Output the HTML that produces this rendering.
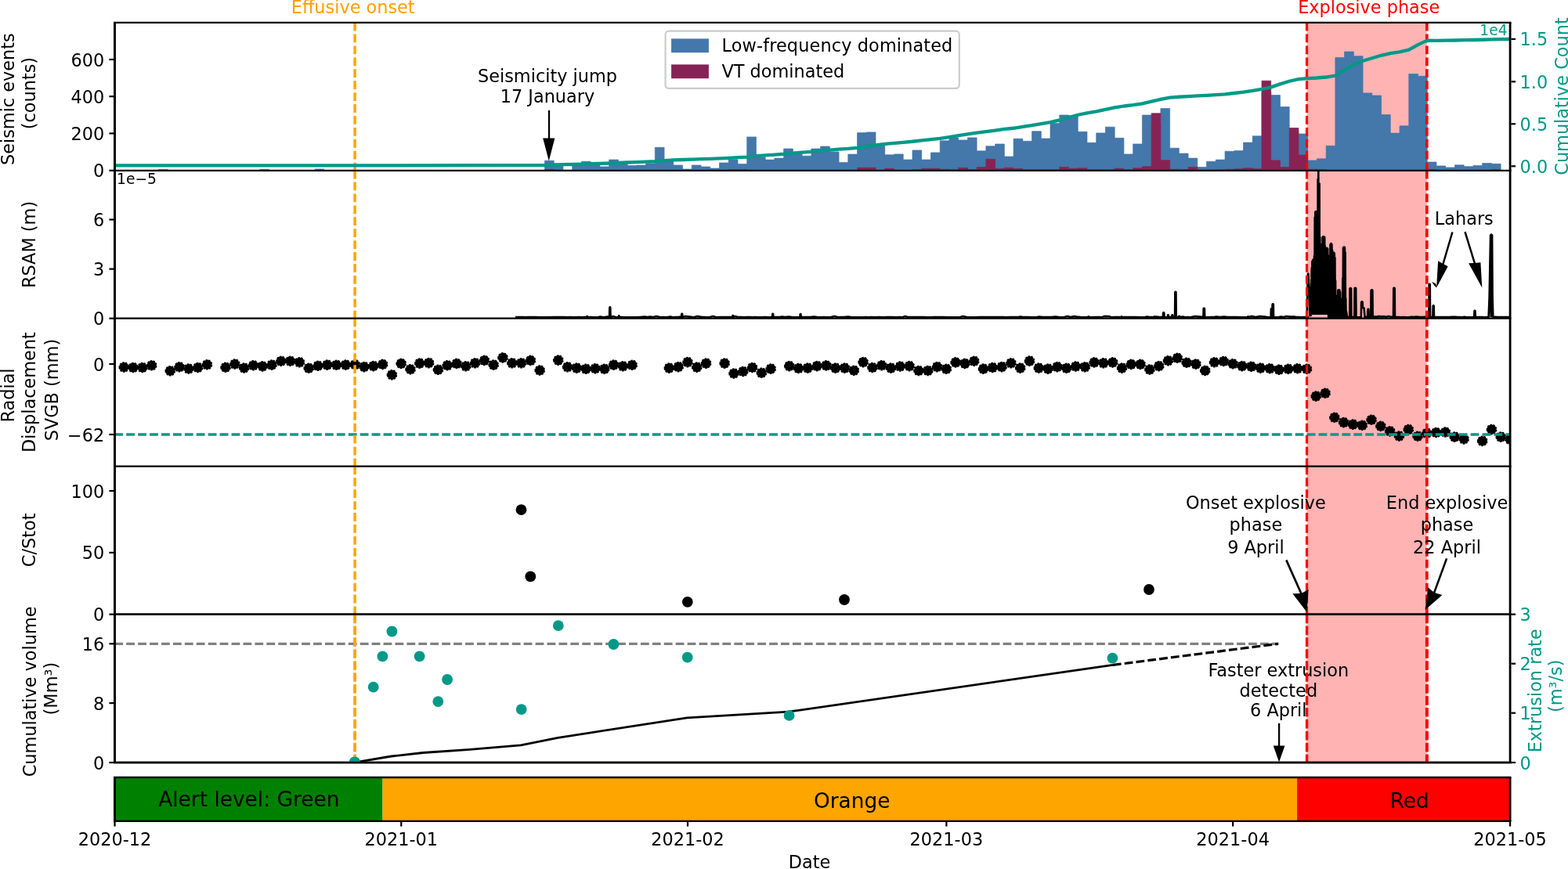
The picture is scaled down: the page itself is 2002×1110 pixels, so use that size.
<!DOCTYPE html>
<html lang="en"><head><meta charset="utf-8"><title>Eruption monitoring time series</title>
<style>html,body{margin:0;padding:0;background:#fff;}body{width:2002px;height:1110px;overflow:hidden;}svg{display:block;font-family:"DejaVu Sans","Liberation Sans",sans-serif;font-size:22.4px;}path,polyline{fill:none;}</style></head><body>
<svg width="2002" height="1110" viewBox="0 0 2002 1110">
<rect width="2002" height="1110" fill="#fff"/>
<defs>
<clipPath id="c1"><rect x="146.5" y="28.8" width="1781.6" height="189"/></clipPath>
<clipPath id="c2"><rect x="146.5" y="217.8" width="1781.6" height="188.9"/></clipPath>
<clipPath id="c3"><rect x="146.5" y="406.7" width="1781.6" height="188.9"/></clipPath>
<clipPath id="c4"><rect x="146.5" y="595.6" width="1781.6" height="189.1"/></clipPath>
<clipPath id="c5"><rect x="146.5" y="784.7" width="1781.6" height="189.3"/></clipPath>
</defs>
<rect x="1668.55" y="28.8" width="153.15" height="945.2" fill="#FFB3B3"/>
<g clip-path="url(#c1)">
<path d="M202.55 218.4V216.3H214.28V218.4ZM331.65 218.4V216.3H343.39V218.4ZM402.07 218.4V215.9H413.81V218.4ZM695.5 218.4V205.2H707.24V209.8H718.97V217.3H730.71V209.8H742.45V206.2H754.18V209.8H765.92V212.9H777.66V204H789.4V208.8H801.13V211.5H812.87V211.1H824.61V208.8H836.34V188.3H848.08V205.8H859.82V211H871.56V216H883.29V211H895.03V213H906.77V215H918.5V208H930.24V203.8H941.98V209.6H953.71V174.9H965.45V200.8H977.19V204.1H988.92V202.1H1000.66V190H1012.4V195.8H1024.14V199.2H1035.87V190H1047.61V187H1059.35V193.9H1071.08V207.4H1082.82V197.1H1094.56V169.6H1106.3V168.9H1118.03V184.8H1129.77V197.8H1141.51V196.9H1153.24V204H1164.98V191.9H1176.72V204H1188.45V194.9H1200.19V179.8H1211.93V175.8H1223.66V178.9H1235.4V175.9H1247.14V192.8H1258.88V186.7H1270.61V184H1282.35V200H1294.09V177.2H1305.82V180.3H1317.56V167.7H1329.3V177H1341.03V157.4H1352.77V147H1364.51V147.8H1376.25V168.3H1387.98V182.3H1399.72V169.9H1411.46V162.2H1423.19V176.3H1434.93V196.9H1446.67V183.9H1458.4V147H1470.14V157.8H1481.88V138.6H1493.62V189.2H1505.35V196.1H1517.09V202.1H1528.83V213.5H1540.56V206.2H1552.3V204.1H1564.04V193.3H1575.78V192.6H1587.51V182.1H1599.25V173.8H1610.99V117.8H1622.72V121.6H1634.46V136.5H1646.2V167.8H1657.93V171H1669.67V204.9H1681.41V202.8H1693.14V186.3H1704.88V73.5H1716.62V66H1728.36V71.7H1740.09V118.9H1751.83V122H1763.57V146.5H1775.3V170.1H1787.04V160.8H1798.78V94.5H1810.52V97.3H1822.25V207H1833.99V211.9H1845.73V213.9H1857.46V210.8H1869.2V212.7H1880.94V211.4H1892.67V208.5H1904.41V209.3H1916.15V218.4Z" style="fill:#4477AA;stroke:#4477AA;stroke-width:0.7;stroke-linejoin:miter"/>
<path d="M695.5 218.4V216.6H707.24V218.4ZM930.24 218.4V216.8H941.98V216.8H953.71V218.4ZM1094.56 218.4V214.2H1106.3V214.2H1118.03V218.4ZM1129.77 218.4V215.3H1141.51V218.4ZM1164.98 218.4V216.6H1176.72V215.3H1188.45V215.3H1200.19V216.3H1211.93V216.8H1223.66V214.3H1235.4V216.5H1247.14V213.6H1258.88V203.3H1270.61V215.5H1282.35V214.3H1294.09V215.5H1305.82V216.8H1317.56V216.8H1329.3V216.8H1341.03V216.8H1352.77V213.4H1364.51V215.2H1376.25V214.8H1387.98V216.8H1399.72V216.8H1411.46V216.8H1423.19V215.2H1434.93V216.8H1446.67V214.8H1458.4V212.8H1470.14V144.8H1481.88V204.7H1493.62V216.3H1505.35V216.8H1517.09V213.5H1528.83V217.3H1540.56V217.3H1552.3V217.1H1564.04V216.3H1575.78V215.8H1587.51V214.8H1599.25V215.8H1610.99V103.2H1622.72V204.9H1634.46V213.5H1646.2V163.5H1657.93V198.1H1669.67V216.3H1681.41V216.8H1693.14V218.4ZM1822.25 218.4V216.8H1833.99V218.4ZM1904.41 218.4V216.8H1916.15V218.4Z" style="fill:#882255;stroke:#882255;stroke-width:0.7;stroke-linejoin:miter"/>
</g>
<g clip-path="url(#c2)"><polyline points="658,405 661.63,405 665.52,405 668.27,405 671.1,405.4 673.8,405 677.05,405 681.07,405 684.41,405 688.4,405.4 691.33,405.2 696.04,405.4 701.86,405.4 706.41,405 712.32,405 716.77,405 720.28,405 724.68,405.4 728.26,405 731.12,405.4 735.85,405.3 738.69,405 743.17,405.4 746.39,405 749.1,405 749.4,404.6 749.55,404 749.85,404 750,404.6 750.3,405 750.39,405.3 754.52,405 758.28,405.2 763.56,405.2 766.35,404.6 770.69,405.3 775.74,404.6 778.05,405 778.35,393 778.57,392.4 779.02,392.4 779.25,393 779.55,405 780.37,405 783.28,404.1 786.36,405.3 789.39,405 789.6,405 789.9,404 790.05,403.4 790.35,403.4 790.5,404 790.8,405 793.37,405 798.55,405.4 803.81,405.3 807.5,405.3 812.08,405.4 817.37,405 822.81,404.6 826.97,405 829.68,404.6 834.44,405 837.94,404.1 843.55,405.3 846.12,405 849.87,405.4 852.78,405 856.04,404.6 858.99,405.2 862.89,405 865.67,405 869.57,404.6 869.95,405 870.25,401.4 870.48,400.8 870.93,400.8 871.15,401.4 871.45,405 875.17,404.1 880.69,404.6 885.66,405.3 890.55,404.1 896.4,405 899.2,405 902.51,405.2 905.05,405.4 908.19,404.6 910.7,404.1 915.07,405.4 919.55,405 924.47,405 930.3,405 934.4,405 935.2,405 935.5,403.6 935.65,403 935.95,403 936.1,403.6 936.4,405 938.27,404.1 942.15,405 946.87,405 950.04,405.2 954.08,405 957.77,405 960.63,405.4 963.66,405 969.48,405.4 972.07,405.2 976.72,405 981.44,405.3 986.04,405 985.95,405 986.25,401.4 986.48,400.8 986.93,400.8 987.15,401.4 987.45,405 988.97,405 994.95,405 999.13,404.6 1001.93,405 1007.06,404.6 1011.23,405 1015.54,405.2 1021.37,405 1021.4,405 1021.7,401.7 1021.9,401.1 1022.3,401.1 1022.5,401.7 1022.8,405 1025.13,405 1030.83,405 1034.38,405 1039.31,404.6 1043.63,405 1047.37,405.2 1051.74,405 1055.39,405.2 1060.04,405.2 1065.36,404.1 1070.45,405.2 1073.65,405 1077.39,405 1083.35,404.6 1087.51,405.2 1092.43,405.3 1096.5,405.3 1102.34,405.3 1105.12,405 1108.41,405.2 1112.1,405 1116.78,405.4 1122.22,405 1127.9,405.3 1133.2,405 1138.62,405 1144.31,405.2 1148.48,405 1152.5,405.3 1155.3,404.1 1159.43,405 1164.46,405 1170.44,405 1173.47,405 1178.79,405 1183.43,405.4 1189.36,405.3 1192.41,405 1195.37,405 1200.66,405 1205.01,405 1209.02,405.2 1214.42,405.2 1217.01,405.2 1220.54,405.2 1225.71,405.3 1229.12,404.1 1234.54,405 1240.22,405.3 1245.87,405.4 1251.22,405 1255.19,405 1258.15,405 1262.48,405 1268.04,405 1272.67,405 1275.77,405 1280.44,405 1284.88,405.3 1289.77,405 1294.22,405 1299.81,405 1303.18,404.6 1305.83,405 1310.1,405 1312.7,405 1316.75,405.4 1322.66,405.4 1326.95,404.6 1331.03,405 1336.36,405 1342.15,405 1347.72,404.6 1353.45,405.2 1358.89,405 1362.85,404.1 1366.9,405 1371.75,404.1 1374.5,404.6 1379.75,405 1385.53,405.3 1388.54,405 1389.4,405 1389.7,404.8 1389.85,404.2 1390.15,404.2 1390.3,404.8 1390.6,405 1394.42,405.2 1399.54,405 1403.43,405 1406.5,405.2 1409.56,404.1 1415.54,404.1 1419.23,405.2 1422.98,405 1428.01,405 1431.69,405 1431.4,405 1431.7,405 1431.85,404.4 1432.15,404.4 1432.3,405 1432.6,405 1435.73,405 1439.58,405 1444.26,405 1450.12,405 1456.07,405.2 1461.97,405 1464.76,404.6 1467.4,405 1470.85,405 1473.4,405 1473.7,404.8 1473.85,404.2 1474.15,404.2 1474.3,404.8 1474.6,405 1476.22,404.6 1480.14,405 1484.8,405 1485.1,400 1485.4,399.4 1486,399.4 1486.3,400 1486.6,405 1485.86,405.4 1490.09,405.3 1490.7,405 1491,403 1491.2,402.4 1491.6,402.4 1491.8,403 1492.1,405 1492.9,405 1496.1,405 1496.4,403 1496.6,402.4 1497,402.4 1497.2,403 1497.5,405 1498.2,405 1500.05,405 1500.35,373.3 1500.62,372.7 1501.18,372.7 1501.45,373.3 1501.75,405 1502.19,405 1504.9,405 1505.2,404.3 1505.35,403.7 1505.65,403.7 1505.8,404.3 1506.1,405 1505.63,405 1510.35,404.6 1513.14,405.2 1515.88,405 1519.96,405.3 1525.94,404.1 1531.69,404.6 1536.36,405 1536.4,405 1536.7,394.3 1537,393.7 1537.6,393.7 1537.9,394.3 1538.2,405 1540.71,405.2 1546.49,405 1549.91,405 1553.11,404.6 1557.81,405 1562.97,404.6 1567.03,405 1570.48,405 1576.46,405 1579.01,405 1583.44,405.2 1587.74,405.2 1592.9,405 1593.2,404.8 1593.35,404.2 1593.65,404.2 1593.8,404.8 1594.1,405 1593.51,405 1598.32,404.1 1603.12,405 1608.54,404.1 1614.43,404.6 1619.34,405.2 1623.04,405 1622.6,405 1622.9,394.8 1623.1,394.2 1623.5,394.2 1623.7,394.8 1624,405 1624.3,405 1624.6,388.9 1624.9,388.3 1625.5,388.3 1625.8,388.9 1626.1,405 1626.96,405.3 1632.89,405 1635.44,404.6 1639.45,405 1642.25,404.1 1647.79,404.6 1652.39,404.6 1655.05,405 1658.1,405 1660.61,405.3 1666.48,405 1670.11,405 1668.6,405 1669.8,350.5 1670.4,349.5 1671.2,364 1671.8,368 1672.3,403 1673.6,403 1674.73,342.38 1675.06,400.6 1675.39,334.01 1675.72,400.6 1676.05,332.54 1676.38,400.6 1676.71,331.47 1677.04,400.6 1677.37,331.17 1677.7,400.6 1678.03,326.69 1678.36,400.6 1678.69,277.74 1679.02,400.6 1679.35,270.5 1679.68,400.6 1680.01,270.2 1680.34,400.6 1680.67,269.99 1681,400.6 1681.33,269.84 1681.66,400.6 1681.99,269.69 1682.32,400.6 1682.65,229 1682.98,400.6 1683.31,216.71 1683.64,400.6 1683.97,260.78 1684.3,400.6 1684.63,234.46 1684.96,400.6 1685.29,303.29 1685.62,400.6 1685.95,315.51 1686.28,400.6 1686.61,315.71 1686.94,400.6 1687.27,315.9 1687.6,400.6 1687.93,311.72 1688.26,400.6 1688.59,302.98 1688.92,400.6 1689.25,302.32 1689.58,400.6 1689.91,301.98 1690.24,400.6 1690.57,302.49 1690.9,400.6 1691.23,302.99 1691.56,400.6 1691.89,314.62 1692.22,400.6 1692.55,323.64 1692.88,400.6 1693.21,317.93 1693.54,400.6 1693.87,317.1 1694.2,400.6 1694.53,317.08 1694.86,400.6 1695.19,317.82 1695.52,401.25 1695.85,326.2 1696.18,404.99 1696.51,332.68 1696.84,405.2 1697.17,332.13 1697.5,405.2 1697.83,331.58 1698.16,405.2 1698.49,312.67 1698.82,405.2 1699.15,311.18 1699.48,405.2 1699.81,311.03 1700.14,405.2 1700.47,312.27 1700.8,405.2 1701.13,319.92 1701.46,405.2 1701.79,323.28 1702.12,405.2 1702.45,323 1702.78,405.2 1703.11,322.92 1703.44,405.2 1703.77,323.58 1704.1,405.2 1704.43,329.09 1704.76,405.2 1705.09,358.46 1705.42,405.2 1705.75,377.32 1706.08,405.2 1706.41,382.54 1706.74,405.2 1707.07,381.99 1707.4,405.2 1707.73,378.98 1708.06,405.2 1708.39,370.69 1708.72,405.2 1709.05,370.36 1709.38,405.2 1709.71,370.2 1710.04,405.2 1710.37,370.86 1710.7,405.2 1711.03,372.69 1711.36,405.2 1711.69,381.59 1712.02,405.2 1712.35,381.77 1712.68,405.2 1713.01,381.96 1713.34,405.2 1713.67,382.14 1714,405.2 1714.33,355.51 1714.66,405.2 1714.99,316.45 1715.32,405.2 1715.65,315.79 1715.98,405.2 1716.31,315.56 1716.64,405.2 1716.97,316.16 1717.3,405.2 1717.63,322.55 1717.96,405.2 1718.29,381.38 1718.62,405.2 1718.95,397.88 1720,405 1723.2,405 1723.5,368.6 1723.9,368 1724.7,368 1725.1,368.6 1725.4,405 1727.2,405 1729.3,405 1729.6,368.3 1730,367.7 1730.8,367.7 1731.2,368.3 1731.5,405 1733,405.3 1735.54,405.2 1737.85,405 1738.15,386 1738.53,385.4 1739.28,385.4 1739.65,386 1739.95,393 1741.6,393.5 1742.6,405 1744.6,405 1746.1,405 1746.4,395.3 1746.65,394.7 1747.15,394.7 1747.4,395.3 1747.7,405 1749,404.5 1750.3,405 1750.6,371 1751.05,370.4 1751.95,370.4 1752.4,371 1752.7,405 1754.5,404.4 1756.71,404.7 1759.97,404.1 1762.59,404.4 1764.81,404.4 1767.17,404.4 1770.16,404.7 1772.92,404.1 1775.13,404.6 1779,405 1779.3,368.3 1779.65,367.7 1780.35,367.7 1780.7,368.3 1781,405 1783,405 1786.91,405.1 1789.28,405.2 1791.39,405 1795.23,405.2 1799.5,405 1803.57,404.7 1805.78,405 1808.11,404.5 1812.51,405 1816.6,405 1820.17,404.7 1824.35,405 1824.65,363.3 1824.92,362.7 1825.48,362.7 1825.75,363.3 1826.05,405 1827.8,405 1829.4,405 1829.7,390.8 1829.95,390.2 1830.45,390.2 1830.7,390.8 1831,405 1833,405 1836.14,405 1840.01,405 1843.66,405 1847.53,405.1 1850.16,405 1854.27,404.7 1858.09,404.7 1860.67,405.1 1863.91,405 1866.1,405.3 1870.02,404.7 1872.21,405.2 1875.04,405.3 1878.59,405.2 1882.2,405 1882.5,397.4 1882.75,396.8 1883.25,396.8 1883.5,397.4 1883.8,405 1886,405 1889.21,405 1892.94,405.1 1895.67,405.3 1898.83,405.1 1900.6,405 1901.6,380 1903.1,300.2 1903.6,404 1904.1,299.6 1904.6,404 1905.1,300.2 1905.6,380 1906.3,405 1909,404.7 1911.78,405 1916.12,405 1918.84,405 1922.89,405.1 1928.1,405" stroke="#000" stroke-width="2.6" stroke-linejoin="round"/></g>
<g clip-path="url(#c3)">
<path d="M152.25 469a6.05 6.05 0 1 0 12.1 0a6.05 6.05 0 1 0 -12.1 0ZM164.05 469.5a6.05 6.05 0 1 0 12.1 0a6.05 6.05 0 1 0 -12.1 0ZM175.85 469.5a6.05 6.05 0 1 0 12.1 0a6.05 6.05 0 1 0 -12.1 0ZM187.64 466.8a6.05 6.05 0 1 0 12.1 0a6.05 6.05 0 1 0 -12.1 0ZM211.24 473.7a6.05 6.05 0 1 0 12.1 0a6.05 6.05 0 1 0 -12.1 0ZM223.04 468.8a6.05 6.05 0 1 0 12.1 0a6.05 6.05 0 1 0 -12.1 0ZM234.84 471a6.05 6.05 0 1 0 12.1 0a6.05 6.05 0 1 0 -12.1 0ZM246.64 469.5a6.05 6.05 0 1 0 12.1 0a6.05 6.05 0 1 0 -12.1 0ZM258.44 465.8a6.05 6.05 0 1 0 12.1 0a6.05 6.05 0 1 0 -12.1 0ZM282.03 469.2a6.05 6.05 0 1 0 12.1 0a6.05 6.05 0 1 0 -12.1 0ZM293.83 465a6.05 6.05 0 1 0 12.1 0a6.05 6.05 0 1 0 -12.1 0ZM305.63 470a6.05 6.05 0 1 0 12.1 0a6.05 6.05 0 1 0 -12.1 0ZM317.43 466.7a6.05 6.05 0 1 0 12.1 0a6.05 6.05 0 1 0 -12.1 0ZM329.23 467.9a6.05 6.05 0 1 0 12.1 0a6.05 6.05 0 1 0 -12.1 0ZM341.03 466.1a6.05 6.05 0 1 0 12.1 0a6.05 6.05 0 1 0 -12.1 0ZM352.83 461.3a6.05 6.05 0 1 0 12.1 0a6.05 6.05 0 1 0 -12.1 0ZM364.62 461.3a6.05 6.05 0 1 0 12.1 0a6.05 6.05 0 1 0 -12.1 0ZM376.42 462.8a6.05 6.05 0 1 0 12.1 0a6.05 6.05 0 1 0 -12.1 0ZM388.22 470.3a6.05 6.05 0 1 0 12.1 0a6.05 6.05 0 1 0 -12.1 0ZM400.02 467.3a6.05 6.05 0 1 0 12.1 0a6.05 6.05 0 1 0 -12.1 0ZM411.82 466.1a6.05 6.05 0 1 0 12.1 0a6.05 6.05 0 1 0 -12.1 0ZM423.62 466.3a6.05 6.05 0 1 0 12.1 0a6.05 6.05 0 1 0 -12.1 0ZM435.42 466.1a6.05 6.05 0 1 0 12.1 0a6.05 6.05 0 1 0 -12.1 0ZM447.22 465.7a6.05 6.05 0 1 0 12.1 0a6.05 6.05 0 1 0 -12.1 0ZM459.01 468.6a6.05 6.05 0 1 0 12.1 0a6.05 6.05 0 1 0 -12.1 0ZM470.81 467.6a6.05 6.05 0 1 0 12.1 0a6.05 6.05 0 1 0 -12.1 0ZM482.61 465.4a6.05 6.05 0 1 0 12.1 0a6.05 6.05 0 1 0 -12.1 0ZM494.41 478.8a6.05 6.05 0 1 0 12.1 0a6.05 6.05 0 1 0 -12.1 0ZM506.21 464.4a6.05 6.05 0 1 0 12.1 0a6.05 6.05 0 1 0 -12.1 0ZM518.01 471.7a6.05 6.05 0 1 0 12.1 0a6.05 6.05 0 1 0 -12.1 0ZM529.81 464.1a6.05 6.05 0 1 0 12.1 0a6.05 6.05 0 1 0 -12.1 0ZM541.6 463.6a6.05 6.05 0 1 0 12.1 0a6.05 6.05 0 1 0 -12.1 0ZM553.4 472.2a6.05 6.05 0 1 0 12.1 0a6.05 6.05 0 1 0 -12.1 0ZM565.2 466.7a6.05 6.05 0 1 0 12.1 0a6.05 6.05 0 1 0 -12.1 0ZM577 464.4a6.05 6.05 0 1 0 12.1 0a6.05 6.05 0 1 0 -12.1 0ZM588.8 467.8a6.05 6.05 0 1 0 12.1 0a6.05 6.05 0 1 0 -12.1 0ZM600.6 463.8a6.05 6.05 0 1 0 12.1 0a6.05 6.05 0 1 0 -12.1 0ZM612.4 460.4a6.05 6.05 0 1 0 12.1 0a6.05 6.05 0 1 0 -12.1 0ZM624.2 466.1a6.05 6.05 0 1 0 12.1 0a6.05 6.05 0 1 0 -12.1 0ZM635.99 456.9a6.05 6.05 0 1 0 12.1 0a6.05 6.05 0 1 0 -12.1 0ZM647.79 463.8a6.05 6.05 0 1 0 12.1 0a6.05 6.05 0 1 0 -12.1 0ZM659.59 463.8a6.05 6.05 0 1 0 12.1 0a6.05 6.05 0 1 0 -12.1 0ZM671.39 460.4a6.05 6.05 0 1 0 12.1 0a6.05 6.05 0 1 0 -12.1 0ZM683.19 473a6.05 6.05 0 1 0 12.1 0a6.05 6.05 0 1 0 -12.1 0ZM706.79 460.1a6.05 6.05 0 1 0 12.1 0a6.05 6.05 0 1 0 -12.1 0ZM718.59 468.8a6.05 6.05 0 1 0 12.1 0a6.05 6.05 0 1 0 -12.1 0ZM730.38 470.1a6.05 6.05 0 1 0 12.1 0a6.05 6.05 0 1 0 -12.1 0ZM742.18 471.3a6.05 6.05 0 1 0 12.1 0a6.05 6.05 0 1 0 -12.1 0ZM753.98 470.7a6.05 6.05 0 1 0 12.1 0a6.05 6.05 0 1 0 -12.1 0ZM765.78 471.3a6.05 6.05 0 1 0 12.1 0a6.05 6.05 0 1 0 -12.1 0ZM777.58 466.1a6.05 6.05 0 1 0 12.1 0a6.05 6.05 0 1 0 -12.1 0ZM789.38 467.8a6.05 6.05 0 1 0 12.1 0a6.05 6.05 0 1 0 -12.1 0ZM801.18 466.3a6.05 6.05 0 1 0 12.1 0a6.05 6.05 0 1 0 -12.1 0ZM848.37 470.1a6.05 6.05 0 1 0 12.1 0a6.05 6.05 0 1 0 -12.1 0ZM860.17 468.6a6.05 6.05 0 1 0 12.1 0a6.05 6.05 0 1 0 -12.1 0ZM871.97 462.6a6.05 6.05 0 1 0 12.1 0a6.05 6.05 0 1 0 -12.1 0ZM883.77 469.1a6.05 6.05 0 1 0 12.1 0a6.05 6.05 0 1 0 -12.1 0ZM895.57 464.1a6.05 6.05 0 1 0 12.1 0a6.05 6.05 0 1 0 -12.1 0ZM919.16 464.1a6.05 6.05 0 1 0 12.1 0a6.05 6.05 0 1 0 -12.1 0ZM930.96 477a6.05 6.05 0 1 0 12.1 0a6.05 6.05 0 1 0 -12.1 0ZM942.76 474.5a6.05 6.05 0 1 0 12.1 0a6.05 6.05 0 1 0 -12.1 0ZM954.56 469.5a6.05 6.05 0 1 0 12.1 0a6.05 6.05 0 1 0 -12.1 0ZM966.36 476.3a6.05 6.05 0 1 0 12.1 0a6.05 6.05 0 1 0 -12.1 0ZM978.16 471.1a6.05 6.05 0 1 0 12.1 0a6.05 6.05 0 1 0 -12.1 0ZM1001.75 467.6a6.05 6.05 0 1 0 12.1 0a6.05 6.05 0 1 0 -12.1 0ZM1013.55 470.5a6.05 6.05 0 1 0 12.1 0a6.05 6.05 0 1 0 -12.1 0ZM1025.35 470.1a6.05 6.05 0 1 0 12.1 0a6.05 6.05 0 1 0 -12.1 0ZM1037.15 467.6a6.05 6.05 0 1 0 12.1 0a6.05 6.05 0 1 0 -12.1 0ZM1048.95 466.9a6.05 6.05 0 1 0 12.1 0a6.05 6.05 0 1 0 -12.1 0ZM1060.75 470.1a6.05 6.05 0 1 0 12.1 0a6.05 6.05 0 1 0 -12.1 0ZM1072.55 470.1a6.05 6.05 0 1 0 12.1 0a6.05 6.05 0 1 0 -12.1 0ZM1084.34 473.2a6.05 6.05 0 1 0 12.1 0a6.05 6.05 0 1 0 -12.1 0ZM1096.14 462.6a6.05 6.05 0 1 0 12.1 0a6.05 6.05 0 1 0 -12.1 0ZM1107.94 469.5a6.05 6.05 0 1 0 12.1 0a6.05 6.05 0 1 0 -12.1 0ZM1119.74 466.7a6.05 6.05 0 1 0 12.1 0a6.05 6.05 0 1 0 -12.1 0ZM1131.54 470.1a6.05 6.05 0 1 0 12.1 0a6.05 6.05 0 1 0 -12.1 0ZM1143.34 468a6.05 6.05 0 1 0 12.1 0a6.05 6.05 0 1 0 -12.1 0ZM1155.14 467.6a6.05 6.05 0 1 0 12.1 0a6.05 6.05 0 1 0 -12.1 0ZM1166.93 473.5a6.05 6.05 0 1 0 12.1 0a6.05 6.05 0 1 0 -12.1 0ZM1178.73 473.5a6.05 6.05 0 1 0 12.1 0a6.05 6.05 0 1 0 -12.1 0ZM1190.53 468.6a6.05 6.05 0 1 0 12.1 0a6.05 6.05 0 1 0 -12.1 0ZM1202.33 471.3a6.05 6.05 0 1 0 12.1 0a6.05 6.05 0 1 0 -12.1 0ZM1214.13 462.9a6.05 6.05 0 1 0 12.1 0a6.05 6.05 0 1 0 -12.1 0ZM1225.93 464.4a6.05 6.05 0 1 0 12.1 0a6.05 6.05 0 1 0 -12.1 0ZM1237.73 461.3a6.05 6.05 0 1 0 12.1 0a6.05 6.05 0 1 0 -12.1 0ZM1249.53 471.1a6.05 6.05 0 1 0 12.1 0a6.05 6.05 0 1 0 -12.1 0ZM1261.32 469.5a6.05 6.05 0 1 0 12.1 0a6.05 6.05 0 1 0 -12.1 0ZM1273.12 468.6a6.05 6.05 0 1 0 12.1 0a6.05 6.05 0 1 0 -12.1 0ZM1284.92 463.8a6.05 6.05 0 1 0 12.1 0a6.05 6.05 0 1 0 -12.1 0ZM1296.72 470.1a6.05 6.05 0 1 0 12.1 0a6.05 6.05 0 1 0 -12.1 0ZM1308.52 461.1a6.05 6.05 0 1 0 12.1 0a6.05 6.05 0 1 0 -12.1 0ZM1320.32 470.1a6.05 6.05 0 1 0 12.1 0a6.05 6.05 0 1 0 -12.1 0ZM1332.12 471.1a6.05 6.05 0 1 0 12.1 0a6.05 6.05 0 1 0 -12.1 0ZM1343.91 468.6a6.05 6.05 0 1 0 12.1 0a6.05 6.05 0 1 0 -12.1 0ZM1355.71 470.3a6.05 6.05 0 1 0 12.1 0a6.05 6.05 0 1 0 -12.1 0ZM1367.51 468a6.05 6.05 0 1 0 12.1 0a6.05 6.05 0 1 0 -12.1 0ZM1379.31 468.8a6.05 6.05 0 1 0 12.1 0a6.05 6.05 0 1 0 -12.1 0ZM1391.11 462.9a6.05 6.05 0 1 0 12.1 0a6.05 6.05 0 1 0 -12.1 0ZM1402.91 463.8a6.05 6.05 0 1 0 12.1 0a6.05 6.05 0 1 0 -12.1 0ZM1414.71 462.9a6.05 6.05 0 1 0 12.1 0a6.05 6.05 0 1 0 -12.1 0ZM1426.51 470.1a6.05 6.05 0 1 0 12.1 0a6.05 6.05 0 1 0 -12.1 0ZM1438.3 465.4a6.05 6.05 0 1 0 12.1 0a6.05 6.05 0 1 0 -12.1 0ZM1450.1 465.4a6.05 6.05 0 1 0 12.1 0a6.05 6.05 0 1 0 -12.1 0ZM1461.9 472a6.05 6.05 0 1 0 12.1 0a6.05 6.05 0 1 0 -12.1 0ZM1473.7 467.6a6.05 6.05 0 1 0 12.1 0a6.05 6.05 0 1 0 -12.1 0ZM1485.5 460.7a6.05 6.05 0 1 0 12.1 0a6.05 6.05 0 1 0 -12.1 0ZM1497.3 457.3a6.05 6.05 0 1 0 12.1 0a6.05 6.05 0 1 0 -12.1 0ZM1509.1 463.2a6.05 6.05 0 1 0 12.1 0a6.05 6.05 0 1 0 -12.1 0ZM1520.9 465.1a6.05 6.05 0 1 0 12.1 0a6.05 6.05 0 1 0 -12.1 0ZM1532.69 473.4a6.05 6.05 0 1 0 12.1 0a6.05 6.05 0 1 0 -12.1 0ZM1544.49 462.8a6.05 6.05 0 1 0 12.1 0a6.05 6.05 0 1 0 -12.1 0ZM1556.29 461.5a6.05 6.05 0 1 0 12.1 0a6.05 6.05 0 1 0 -12.1 0ZM1568.09 464.7a6.05 6.05 0 1 0 12.1 0a6.05 6.05 0 1 0 -12.1 0ZM1579.89 467.6a6.05 6.05 0 1 0 12.1 0a6.05 6.05 0 1 0 -12.1 0ZM1591.69 468.2a6.05 6.05 0 1 0 12.1 0a6.05 6.05 0 1 0 -12.1 0ZM1603.49 470.1a6.05 6.05 0 1 0 12.1 0a6.05 6.05 0 1 0 -12.1 0ZM1615.28 470.7a6.05 6.05 0 1 0 12.1 0a6.05 6.05 0 1 0 -12.1 0ZM1627.08 472.2a6.05 6.05 0 1 0 12.1 0a6.05 6.05 0 1 0 -12.1 0ZM1638.88 471.3a6.05 6.05 0 1 0 12.1 0a6.05 6.05 0 1 0 -12.1 0ZM1650.68 470.7a6.05 6.05 0 1 0 12.1 0a6.05 6.05 0 1 0 -12.1 0ZM1662.48 471.3a6.05 6.05 0 1 0 12.1 0a6.05 6.05 0 1 0 -12.1 0ZM1674.28 506.1a6.05 6.05 0 1 0 12.1 0a6.05 6.05 0 1 0 -12.1 0ZM1686.08 502.2a6.05 6.05 0 1 0 12.1 0a6.05 6.05 0 1 0 -12.1 0ZM1697.88 533.3a6.05 6.05 0 1 0 12.1 0a6.05 6.05 0 1 0 -12.1 0ZM1709.67 539.6a6.05 6.05 0 1 0 12.1 0a6.05 6.05 0 1 0 -12.1 0ZM1721.47 542.1a6.05 6.05 0 1 0 12.1 0a6.05 6.05 0 1 0 -12.1 0ZM1733.27 543.3a6.05 6.05 0 1 0 12.1 0a6.05 6.05 0 1 0 -12.1 0ZM1745.07 536.2a6.05 6.05 0 1 0 12.1 0a6.05 6.05 0 1 0 -12.1 0ZM1756.87 544.4a6.05 6.05 0 1 0 12.1 0a6.05 6.05 0 1 0 -12.1 0ZM1768.67 550.8a6.05 6.05 0 1 0 12.1 0a6.05 6.05 0 1 0 -12.1 0ZM1780.47 557a6.05 6.05 0 1 0 12.1 0a6.05 6.05 0 1 0 -12.1 0ZM1792.26 548.6a6.05 6.05 0 1 0 12.1 0a6.05 6.05 0 1 0 -12.1 0ZM1804.06 557.2a6.05 6.05 0 1 0 12.1 0a6.05 6.05 0 1 0 -12.1 0ZM1815.86 553.3a6.05 6.05 0 1 0 12.1 0a6.05 6.05 0 1 0 -12.1 0ZM1827.66 552.5a6.05 6.05 0 1 0 12.1 0a6.05 6.05 0 1 0 -12.1 0ZM1839.46 552a6.05 6.05 0 1 0 12.1 0a6.05 6.05 0 1 0 -12.1 0ZM1851.26 558.1a6.05 6.05 0 1 0 12.1 0a6.05 6.05 0 1 0 -12.1 0ZM1863.06 560.8a6.05 6.05 0 1 0 12.1 0a6.05 6.05 0 1 0 -12.1 0ZM1886.65 563.3a6.05 6.05 0 1 0 12.1 0a6.05 6.05 0 1 0 -12.1 0ZM1898.45 548.6a6.05 6.05 0 1 0 12.1 0a6.05 6.05 0 1 0 -12.1 0ZM1910.25 558.1a6.05 6.05 0 1 0 12.1 0a6.05 6.05 0 1 0 -12.1 0ZM1922.05 561.3a6.05 6.05 0 1 0 12.1 0a6.05 6.05 0 1 0 -12.1 0Z" style="fill:#000;stroke:#000;stroke-width:1.5;stroke-dasharray:2.6 1.3"/>
</g>
<path d="M146.5 555H1928.1" stroke="#009988" stroke-width="3.3" stroke-dasharray="10.8 4.125" stroke-dashoffset="0.2"/>
<circle cx="665.5" cy="651.2" r="6.9"/>
<circle cx="677.3" cy="736.4" r="6.9"/>
<circle cx="877.8" cy="768.8" r="6.9"/>
<circle cx="1078" cy="766" r="6.9"/>
<circle cx="1467" cy="753" r="6.9"/>
<path d="M146.5 822.4H1632.5" stroke="#808080" stroke-width="3.3" stroke-dasharray="10.8 4.125" stroke-dashoffset="0.2"/>
<polyline points="453,973.8 499.6,966 540,961.5 600,957.3 665,951.8 712.4,942.3 877.2,916.9 1007,909.1 1420.9,849.4" stroke="#000" stroke-width="2.8" stroke-linejoin="round"/>
<path d="M1420.9 849.4L1632 822.3" stroke="#000" stroke-width="3.2" stroke-dasharray="10.8 4.125"/>
<path d="M453.1 28.8V217.8" stroke="#FFA500" stroke-width="3.5" stroke-dasharray="10.8 4.125" stroke-dashoffset="0.2"/>
<path d="M1668.55 28.8V217.8" stroke="#FF0000" stroke-width="3.2" stroke-dasharray="10.8 4.125" stroke-dashoffset="0.2"/>
<path d="M1821.8 28.8V217.8" stroke="#FF0000" stroke-width="3.7" stroke-dasharray="10.8 4.125" stroke-dashoffset="0.2"/>
<path d="M453.1 217.8V406.7" stroke="#FFA500" stroke-width="3.5" stroke-dasharray="10.8 4.125" stroke-dashoffset="0.2"/>
<path d="M1668.55 217.8V406.7" stroke="#FF0000" stroke-width="3.2" stroke-dasharray="10.8 4.125" stroke-dashoffset="0.2"/>
<path d="M1821.8 217.8V406.7" stroke="#FF0000" stroke-width="3.7" stroke-dasharray="10.8 4.125" stroke-dashoffset="0.2"/>
<path d="M453.1 406.7V595.6" stroke="#FFA500" stroke-width="3.5" stroke-dasharray="10.8 4.125" stroke-dashoffset="0.2"/>
<path d="M1668.55 406.7V595.6" stroke="#FF0000" stroke-width="3.2" stroke-dasharray="10.8 4.125" stroke-dashoffset="0.2"/>
<path d="M1821.8 406.7V595.6" stroke="#FF0000" stroke-width="3.7" stroke-dasharray="10.8 4.125" stroke-dashoffset="0.2"/>
<path d="M453.1 595.6V784.7" stroke="#FFA500" stroke-width="3.5" stroke-dasharray="10.8 4.125" stroke-dashoffset="0.2"/>
<path d="M1668.55 595.6V784.7" stroke="#FF0000" stroke-width="3.2" stroke-dasharray="10.8 4.125" stroke-dashoffset="0.2"/>
<path d="M1821.8 595.6V784.7" stroke="#FF0000" stroke-width="3.7" stroke-dasharray="10.8 4.125" stroke-dashoffset="0.2"/>
<path d="M453.1 784.7V974" stroke="#FFA500" stroke-width="3.5" stroke-dasharray="10.8 4.125" stroke-dashoffset="0.2"/>
<path d="M1668.55 784.7V974" stroke="#FF0000" stroke-width="3.2" stroke-dasharray="10.8 4.125" stroke-dashoffset="0.2"/>
<path d="M1821.8 784.7V974" stroke="#FF0000" stroke-width="3.7" stroke-dasharray="10.8 4.125" stroke-dashoffset="0.2"/>
<g clip-path="url(#c5)" fill="#009988">
<circle cx="452.9" cy="973.5" r="6.9"/>
<circle cx="476.7" cy="877.7" r="6.9"/>
<circle cx="488.4" cy="838.4" r="6.9"/>
<circle cx="500.4" cy="806.5" r="6.9"/>
<circle cx="535.6" cy="838.4" r="6.9"/>
<circle cx="559.3" cy="896.1" r="6.9"/>
<circle cx="571.1" cy="868" r="6.9"/>
<circle cx="665.7" cy="906.1" r="6.9"/>
<circle cx="712.8" cy="799.1" r="6.9"/>
<circle cx="783.4" cy="823" r="6.9"/>
<circle cx="877.7" cy="839.6" r="6.9"/>
<circle cx="1007.6" cy="913.9" r="6.9"/>
<circle cx="1420.4" cy="840.7" r="6.9"/>
</g>
<g clip-path="url(#c1)"><polyline points="146.5,211.4 500,211.3 695.5,210.99 707.24,210.51 718.97,210.15 730.71,210 742.45,209.64 754.18,209.18 765.92,208.8 777.66,208.48 789.4,207.91 801.13,207.48 812.87,207.12 824.61,206.72 836.34,206.19 848.08,205.08 859.82,204.47 871.56,204 883.29,203.67 895.03,203.2 906.77,202.78 918.5,202.41 930.24,201.85 941.98,201.18 953.71,200.66 965.45,199.12 977.19,198.29 988.92,197.55 1000.66,196.76 1012.4,195.63 1024.14,194.67 1035.87,193.83 1047.61,192.74 1059.35,191.56 1071.08,190.57 1082.82,189.97 1094.56,188.96 1106.3,187.16 1118.03,185.34 1129.77,183.96 1141.51,182.95 1153.24,181.84 1164.98,180.75 1176.72,179.31 1188.45,178.22 1200.19,176.87 1211.93,175.09 1223.66,173.22 1235.4,171.44 1247.14,169.57 1258.88,168.18 1270.61,166.61 1282.35,164.97 1294.09,163.76 1305.82,161.92 1317.56,160.17 1329.3,158.06 1341.03,156.21 1352.77,153.38 1364.51,150.05 1376.25,146.74 1387.98,144.34 1399.72,142.33 1411.46,139.97 1423.19,137.44 1434.93,135.5 1446.67,134.13 1458.4,132.39 1470.14,129.61 1481.88,126.81 1493.62,124.6 1505.35,123.75 1517.09,123.12 1528.83,122.36 1540.56,121.82 1552.3,121.09 1564.04,120.29 1575.78,118.99 1587.51,117.65 1599.25,115.83 1610.99,113.78 1622.72,111.38 1634.46,107.36 1646.2,103.76 1657.93,101.13 1669.67,100.21 1681.41,99.49 1693.14,98.51 1704.88,96.66 1716.62,89.5 1728.36,82.52 1740.09,77.73 1751.83,74.25 1763.57,70.81 1775.3,68.11 1787.04,66.29 1798.78,63.61 1810.52,57.17 1822.25,51.63 1833.99,51.87 1845.73,51.68 1857.46,51.49 1869.2,51.21 1880.94,50.99 1892.67,50.74 1904.41,50.4 1916.15,50.08 1928.1,50" stroke="#009988" stroke-width="4.3" stroke-linejoin="round"/></g>
<path d="M145 28.8H1929.5" stroke="#000" stroke-width="2.3"/>
<path d="M145 217.8H1929.5" stroke="#000" stroke-width="2.3"/>
<path d="M145 406.7H1929.5" stroke="#000" stroke-width="2.3"/>
<path d="M145 595.6H1929.5" stroke="#000" stroke-width="2.3"/>
<path d="M145 784.7H1929.5" stroke="#000" stroke-width="2.3"/>
<path d="M145 974H1929.5" stroke="#000" stroke-width="2.3"/>
<path d="M146.5 28.8V974" stroke="#000" stroke-width="3"/>
<path d="M1928.1 28.8V974" stroke="#000" stroke-width="2.8"/>
<path d="M139.4 76H145.1" stroke="#000" stroke-width="2.2"/>
<text x="133.3" y="84.5" text-anchor="end">600</text>
<path d="M139.4 123.2H145.1" stroke="#000" stroke-width="2.2"/>
<text x="133.3" y="131.7" text-anchor="end">400</text>
<path d="M139.4 170.4H145.1" stroke="#000" stroke-width="2.2"/>
<text x="133.3" y="178.9" text-anchor="end">200</text>
<path d="M139.4 217.8H145.1" stroke="#000" stroke-width="2.2"/>
<text x="133.3" y="226.3" text-anchor="end">0</text>
<path d="M139.4 280.5H145.1" stroke="#000" stroke-width="2.2"/>
<text x="133.3" y="289" text-anchor="end">6</text>
<path d="M139.4 343.6H145.1" stroke="#000" stroke-width="2.2"/>
<text x="133.3" y="352.1" text-anchor="end">3</text>
<path d="M139.4 406.7H145.1" stroke="#000" stroke-width="2.2"/>
<text x="133.3" y="415.2" text-anchor="end">0</text>
<path d="M139.4 465H145.1" stroke="#000" stroke-width="2.2"/>
<text x="133.3" y="473.5" text-anchor="end">0</text>
<path d="M139.4 555H145.1" stroke="#000" stroke-width="2.2"/>
<text x="133.3" y="563.5" text-anchor="end">−62</text>
<path d="M139.4 627H145.1" stroke="#000" stroke-width="2.2"/>
<text x="133.3" y="635.5" text-anchor="end">100</text>
<path d="M139.4 705.9H145.1" stroke="#000" stroke-width="2.2"/>
<text x="133.3" y="714.4" text-anchor="end">50</text>
<path d="M139.4 784.7H145.1" stroke="#000" stroke-width="2.2"/>
<text x="133.3" y="793.2" text-anchor="end">0</text>
<path d="M139.4 822.3H145.1" stroke="#000" stroke-width="2.2"/>
<text x="133.3" y="830.8" text-anchor="end">16</text>
<path d="M139.4 898.1H145.1" stroke="#000" stroke-width="2.2"/>
<text x="133.3" y="906.6" text-anchor="end">8</text>
<path d="M139.4 974H145.1" stroke="#000" stroke-width="2.2"/>
<text x="133.3" y="982.5" text-anchor="end">0</text>
<path d="M1929.4 49.9H1935.1" stroke="#000" stroke-width="2.2"/>
<text x="1940.6" y="58.2" text-anchor="start" fill="#009988">1.5</text>
<path d="M1929.4 104.3H1935.1" stroke="#000" stroke-width="2.2"/>
<text x="1940.6" y="112.6" text-anchor="start" fill="#009988">1.0</text>
<path d="M1929.4 158.3H1935.1" stroke="#000" stroke-width="2.2"/>
<text x="1940.6" y="166.6" text-anchor="start" fill="#009988">0.5</text>
<path d="M1929.4 212.3H1935.1" stroke="#000" stroke-width="2.2"/>
<text x="1940.6" y="220.6" text-anchor="start" fill="#009988">0.0</text>
<path d="M1929.4 784.7H1935.1" stroke="#000" stroke-width="2.2"/>
<text x="1940.6" y="793.4" text-anchor="start" fill="#009988">3</text>
<path d="M1929.4 847.7H1935.1" stroke="#000" stroke-width="2.2"/>
<text x="1940.6" y="856.4" text-anchor="start" fill="#009988">2</text>
<path d="M1929.4 910.7H1935.1" stroke="#000" stroke-width="2.2"/>
<text x="1940.6" y="919.4" text-anchor="start" fill="#009988">1</text>
<path d="M1929.4 974H1935.1" stroke="#000" stroke-width="2.2"/>
<text x="1940.6" y="982.7" text-anchor="start" fill="#009988">0</text>
<text x="149" y="235" text-anchor="start" font-size="18.7">1e−5</text>
<text x="1924.6" y="45.4" text-anchor="end" fill="#009988" font-size="18.7">1e4</text>
<text x="18" y="126.65" text-anchor="middle" transform="rotate(-90 18 126.65)">Seismic events</text>
<text x="45.1" y="119.1" text-anchor="middle" transform="rotate(-90 45.1 119.1)">(counts)</text>
<text x="45.4" y="312.5" text-anchor="middle" transform="rotate(-90 45.4 312.5)">RSAM (m)</text>
<text x="17.7" y="505" text-anchor="middle" transform="rotate(-90 17.7 505)">Radial</text>
<text x="45.5" y="501.1" text-anchor="middle" transform="rotate(-90 45.5 501.1)">Displacement</text>
<text x="73.8" y="498.1" text-anchor="middle" transform="rotate(-90 73.8 498.1)">SVGB (mm)</text>
<text x="45.4" y="689.9" text-anchor="middle" transform="rotate(-90 45.4 689.9)">C/Stot</text>
<text x="45.7" y="883.4" text-anchor="middle" transform="rotate(-90 45.7 883.4)">Cumulative volume</text>
<text x="72.8" y="879.6" text-anchor="middle" transform="rotate(-90 72.8 879.6)">(Mm³)</text>
<text x="2001.9" y="123" text-anchor="middle" fill="#009988" transform="rotate(-90 2001.9 123)">Cumulative Count</text>
<text x="1968" y="882.3" text-anchor="middle" fill="#009988" transform="rotate(-90 1968 882.3)">Extrusion rate</text>
<text x="1993.8" y="876.35" text-anchor="middle" fill="#009988" transform="rotate(-90 1993.8 876.35)">(m³/s)</text>
<text x="450.7" y="17.3" text-anchor="middle" fill="#FF9F00">Effusive onset</text>
<text x="1747.7" y="17.3" text-anchor="middle" fill="#FF0000">Explosive phase</text>
<rect x="849.6" y="39.7" width="375.2" height="73.2" rx="4.4" fill="#fff" fill-opacity="0.8" stroke="#ccc" stroke-width="2.2"/>
<rect x="857.1" y="49.4" width="47.8" height="17.8" fill="#4477AA"/>
<rect x="857.1" y="82.4" width="47.8" height="17.8" fill="#882255"/>
<text x="921.5" y="66" text-anchor="start" textLength="294.8">Low-frequency dominated</text>
<text x="921.5" y="98.9" text-anchor="start">VT dominated</text>
<text x="699" y="105" text-anchor="middle">Seismicity jump</text>
<text x="699" y="130.5" text-anchor="middle">17 January</text>
<path d="M701 141L701 178" stroke="#000" stroke-width="2.3"/>
<path d="M693.2 176.4L708.4 176.4L700.8 205.6Z" style="fill:#000"/>
<text x="1869.3" y="287.1" text-anchor="middle">Lahars</text>
<path d="M1854.4 296.5L1842.4 337.5" stroke="#000" stroke-width="2.5"/>
<path d="M1836.1 333.3L1842.6 336.9L1848.7 340.2L1834.1 367.4Z" style="fill:#000"/>
<path d="M1828 360.1L1833.2 362.2L1834.2 367.4L1831.5 365Z" style="fill:#000"/>
<path d="M1870.5 296.1L1883 336.6" stroke="#000" stroke-width="2.5"/>
<path d="M1875.1 336.3L1882.8 336.1L1890.4 335.2L1892.3 367.4Z" style="fill:#000"/>
<text x="1603.4" y="649.7" text-anchor="middle">Onset explosive</text>
<text x="1603.4" y="678.1" text-anchor="middle">phase</text>
<text x="1603.4" y="706.5" text-anchor="middle">9 April</text>
<path d="M1642.3 715.4L1661.6 758.6" stroke="#000" stroke-width="2.6"/>
<path d="M1650.4 758.35L1661.3 758L1670.65 753.1L1668.6 781.9Z" style="fill:#000"/>
<text x="1847.5" y="649.7" text-anchor="middle">End explosive</text>
<text x="1847.5" y="678.1" text-anchor="middle">phase</text>
<text x="1847.5" y="706.5" text-anchor="middle">22 April</text>
<path d="M1847.1 713.4L1831 757.4" stroke="#000" stroke-width="2.6"/>
<path d="M1823.2 750.2L1831.3 756.9L1841.5 760L1819.6 779.1Z" style="fill:#000"/>
<text x="1632.3" y="864" text-anchor="middle">Faster extrusion</text>
<text x="1632.3" y="889.5" text-anchor="middle">detected</text>
<text x="1632.3" y="915" text-anchor="middle">6 April</text>
<path d="M1668.55 784.7V974" stroke="#FF0000" stroke-width="3.2" stroke-dasharray="10.8 4.125" stroke-dashoffset="-0.7"/>
<path d="M1821.8 784.7V974" stroke="#FF0000" stroke-width="3.7" stroke-dasharray="10.8 4.125" stroke-dashoffset="-0.7"/>
<path d="M453.1 784.7V974" stroke="#FFA500" stroke-width="3.5" stroke-dasharray="10.8 4.125" stroke-dashoffset="-0.7"/>
<g clip-path="url(#c5)"><circle cx="452.9" cy="973.5" r="6.9" fill="#009988"/></g>
<path d="M145 784.7H1929.5" stroke="#000" stroke-width="2.3"/>
<path d="M145 974H1929.5" stroke="#000" stroke-width="2.3"/>
<path d="M1633.1 923.9L1633.1 954" stroke="#000" stroke-width="2.3"/>
<path d="M1625.75 952.6L1640.45 952.6L1633.1 973.4Z" style="fill:#000"/>
<rect x="146.5" y="993" width="342" height="55.9" fill="#008000"/>
<rect x="488.5" y="993" width="1167.6" height="55.9" fill="#FFA500"/>
<rect x="1656.1" y="993" width="272" height="55.9" fill="#FF0000"/>
<path d="M145 993H1929.5" stroke="#000" stroke-width="2.3"/>
<path d="M145 1048.9H1929.5" stroke="#000" stroke-width="2.3"/>
<path d="M146.5 993V1048.9" stroke="#000" stroke-width="3"/>
<path d="M1928.1 993V1048.9" stroke="#000" stroke-width="2.8"/>
<text x="317.8" y="1030.3" text-anchor="middle" font-size="26.4">Alert level: Green</text>
<text x="1087.7" y="1031.5" text-anchor="middle" font-size="26.4">Orange</text>
<text x="1799.7" y="1032.1" text-anchor="middle" font-size="26.4">Red</text>
<path d="M146.5 1049.9V1055.6" stroke="#000" stroke-width="2.2"/>
<text x="146.5" y="1080" text-anchor="middle">2020-12</text>
<path d="M512.26 1049.9V1055.6" stroke="#000" stroke-width="2.2"/>
<text x="512.26" y="1080" text-anchor="middle">2021-01</text>
<path d="M878.02 1049.9V1055.6" stroke="#000" stroke-width="2.2"/>
<text x="878.02" y="1080" text-anchor="middle">2021-02</text>
<path d="M1208.38 1049.9V1055.6" stroke="#000" stroke-width="2.2"/>
<text x="1208.38" y="1080" text-anchor="middle">2021-03</text>
<path d="M1574.14 1049.9V1055.6" stroke="#000" stroke-width="2.2"/>
<text x="1574.14" y="1080" text-anchor="middle">2021-04</text>
<path d="M1928.1 1049.9V1055.6" stroke="#000" stroke-width="2.2"/>
<text x="1928.1" y="1080" text-anchor="middle">2021-05</text>
<text x="1033.5" y="1108.7" text-anchor="middle">Date</text>
</svg></body></html>
